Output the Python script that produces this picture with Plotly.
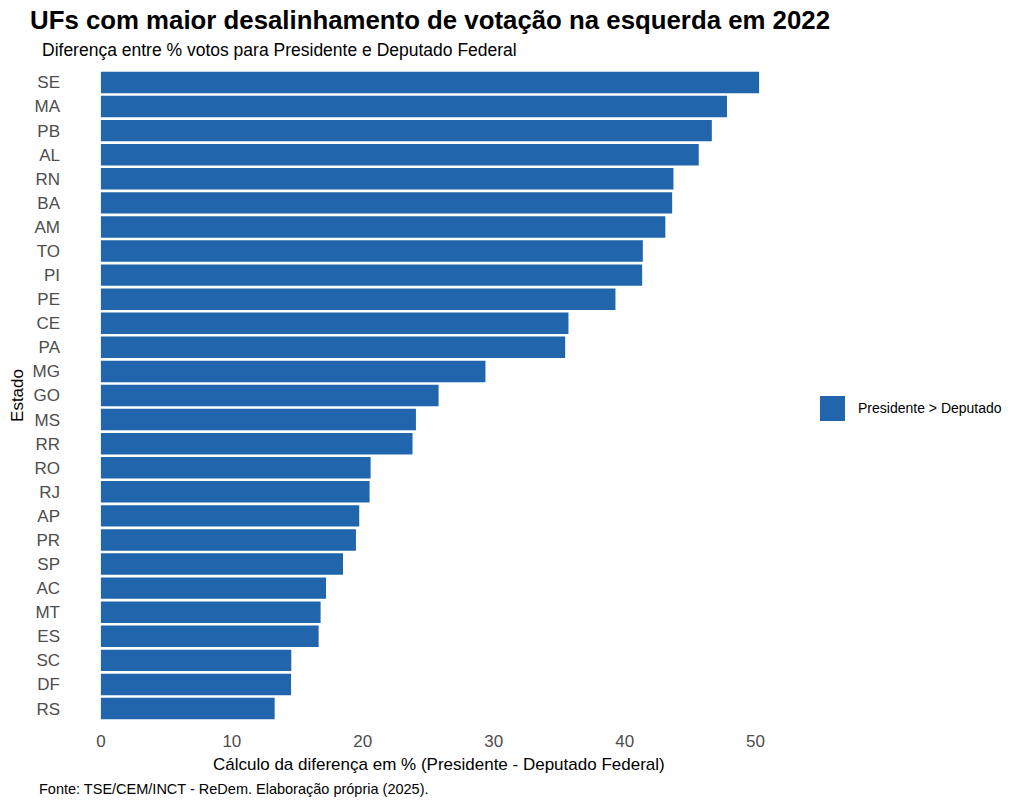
import plotly.graph_objects as go

estados = ["SE", "MA", "PB", "AL", "RN", "BA", "AM", "TO", "PI", "PE", "CE", "PA", "MG",
           "GO", "MS", "RR", "RO", "RJ", "AP", "PR", "SP", "AC", "MT", "ES", "SC", "DF", "RS"]
diferenca = [50.27, 47.82, 46.66, 45.66, 43.73, 43.63, 43.11, 41.39, 41.34, 39.30, 35.71,
             35.46, 29.37, 25.79, 24.06, 23.80, 20.60, 20.52, 19.73, 19.48, 18.49, 17.19,
             16.78, 16.63, 14.54, 14.52, 13.27]
x_ticks = [0, 10, 20, 30, 40, 50]
serie_nome = "Presidente > Deputado"
cor = "#2166AC"

FONT = "Liberation Sans, Arial, sans-serif"

fig = go.Figure()
fig.add_trace(go.Bar(
    x=diferenca, y=estados, orientation="h", name=serie_nome,
    marker=dict(color=cor, line=dict(width=0)), showlegend=False,
))

xmax = max(diferenca)
fig.update_layout(
    width=1024, height=805,
    margin=dict(l=68, r=232, t=67.5, b=81.5),
    paper_bgcolor="white", plot_bgcolor="white",
    bargap=0.11,
    font=dict(family=FONT, color="#000000"),
    title=dict(text="<b>UFs com maior desalinhamento de votação na esquerda em 2022</b>",
               xref="container", x=30 / 1024, xanchor="left",
               yref="container", y=1 - 20 / 805, yanchor="middle",
               font=dict(size=25.8, family=FONT, color="#000000")),
    xaxis=dict(range=[-0.05 * xmax, 1.05 * xmax], tickvals=x_ticks, showgrid=False,
               zeroline=False, showline=False, ticks="", automargin=False,
               ticklabelstandoff=6,
               tickfont=dict(size=17, color="#4D4D4D", family=FONT)),
    yaxis=dict(categoryorder="array", categoryarray=estados[::-1], showgrid=False,
               zeroline=False, showline=False, ticks="", ticklabelstandoff=7,
               automargin=False,
               range=[-0.6, len(estados) - 0.4],
               tickfont=dict(size=17, color="#4D4D4D", family=FONT),
               title=dict(text="Estado", font=dict(size=17, color="#000000", family=FONT),
                          standoff=4)),
)

fig.add_annotation(text="Cálculo da diferença em % (Presidente - Deputado Federal)",
                   xref="paper", yref="paper", x=(439 - 68) / 724, y=0, yshift=-41.5,
                   xanchor="center", yanchor="middle", showarrow=False,
                   font=dict(size=17, family=FONT, color="#000000"))
fig.add_annotation(text="Diferença entre % votos para Presidente e Deputado Federal",
                   xref="paper", yref="paper", x=(40 - 68) / 724, y=1.0, yshift=18.5,
                   xanchor="left", yanchor="middle", showarrow=False,
                   font=dict(size=17.5, family=FONT, color="#000000"))
fig.add_annotation(text="Fonte: TSE/CEM/INCT - ReDem. Elaboração própria (2025).",
                   xref="paper", yref="paper", x=(37 - 68) / 724, y=0, yshift=-65.5,
                   xanchor="left", yanchor="middle", showarrow=False,
                   font=dict(size=14.5, family=FONT, color="#000000"))

# legend key
fig.add_shape(type="rect", xref="paper", yref="paper",
              x0=(820 - 68) / 724, x1=(845 - 68) / 724, y0=0.4611, y1=0.4992,
              fillcolor=cor, line=dict(width=0))
fig.add_annotation(text=serie_nome, xref="paper", yref="paper", x=(856 - 68) / 724, y=0.4802,
                   xanchor="left", yanchor="middle", showarrow=False,
                   font=dict(size=14, family=FONT, color="#000000"))

fig.write_html("out.html", config={"displayModeBar": False},
               post_script="document.body.style.margin='0px';")
